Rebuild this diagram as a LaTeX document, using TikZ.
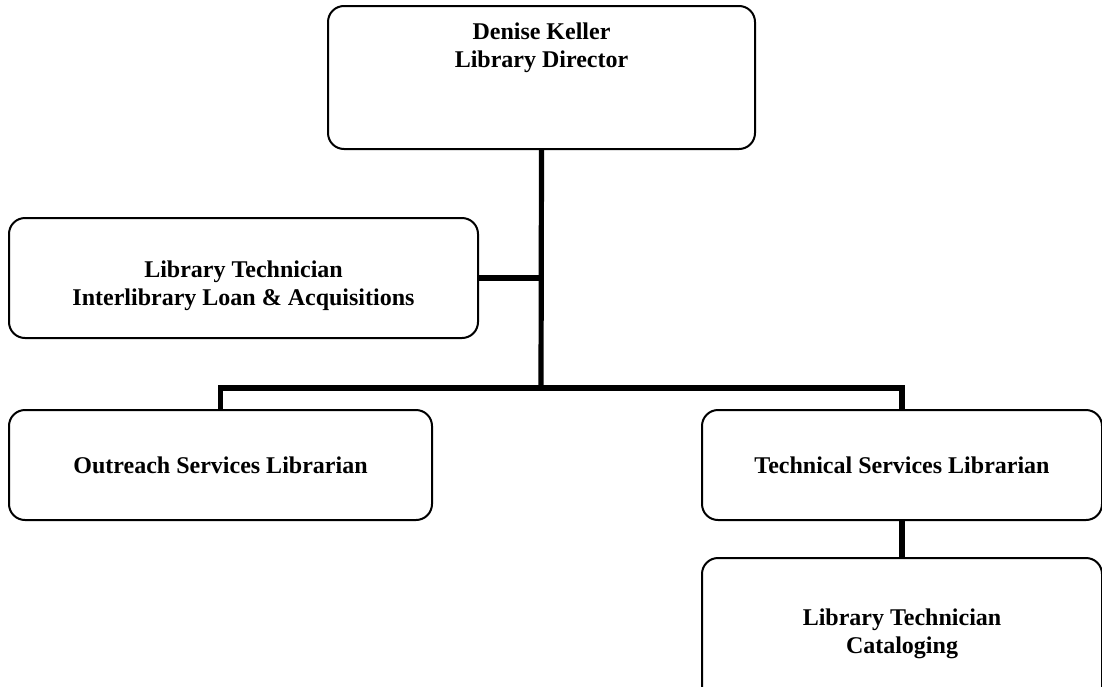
\documentclass[tikz,border=0pt]{standalone}
\usepackage{fontspec}
\setmainfont{Liberation Serif}
\usetikzlibrary{positioning}

\begin{document}
\begin{tikzpicture}[x=0.5pt,y=-0.5pt,
    box/.style={draw,line width=1pt,rounded corners=8pt,align=center,
      font=\bfseries\fontsize{12}{14}\selectfont},
    boxtext/.style={inner sep=0pt,align=center,font=\bfseries\fontsize{12}{14}\selectfont},
    conn/.style={line width=2.6pt}]
          \useasboundingbox (0,0) rectangle (1102,686);
          \node[box,minimum width=213.5pt,minimum height=71.5pt] (dir) at (541.5,77.5) {};
          \node[boxtext,below=8.5pt of dir.north] (dirtext) {Denise Keller\\Library Director};
          \node[box,minimum width=234.5pt,minimum height=60pt] (ill) at (243.5,278) {};
          \node[boxtext] (illtext) at (243.5,286)
            {Library Technician\\Interlibrary Loan \& Acquisitions};
          \node[box,minimum width=211.5pt,minimum height=55pt] (out) at (220.5,465)
            {Outreach Services Librarian};
          \node[box,minimum width=200pt,minimum height=55pt] (tech) at (902,465)
            {Technical Services Librarian};
          \node[box,minimum width=200pt,minimum height=73pt] (cat) at (902,631) {};
          \node[boxtext] (cattext) at (902,634) {Library Technician\\Cataloging};
          \coordinate (bus) at (541,388);
          \draw[conn] (dir.south) -- (bus);
          \draw[conn] (ill.east) -- (ill.east -| bus);
          \draw[conn] (out.north) |- (bus) -| (tech.north);
          \draw[conn] (tech.south) -- (cat.north);
        \end{tikzpicture}
\end{document}
